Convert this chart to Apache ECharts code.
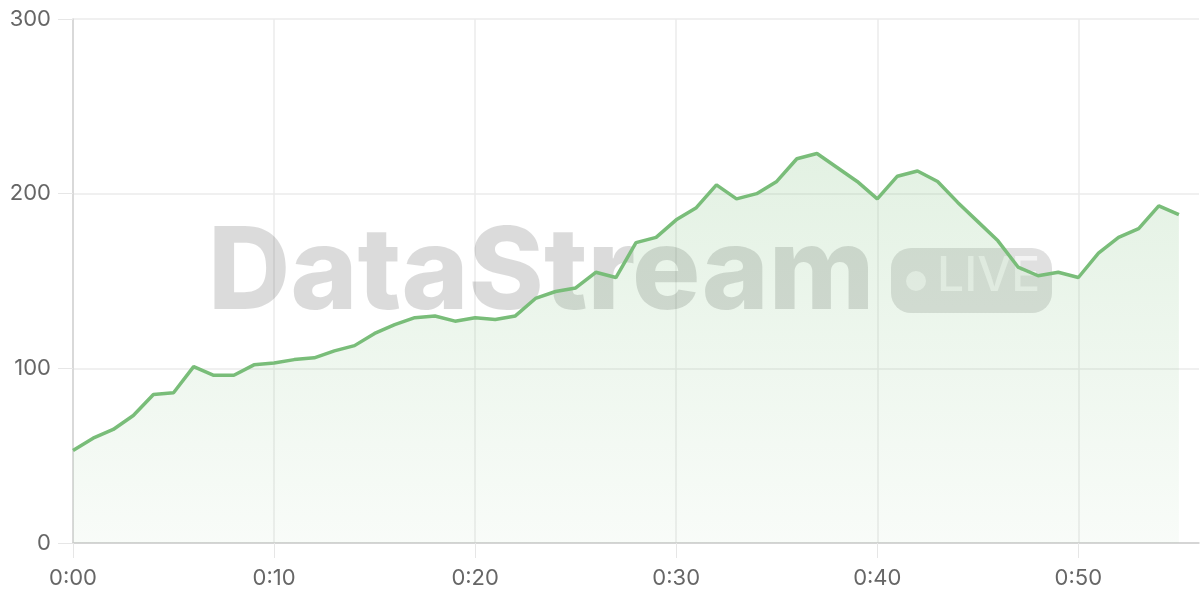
<!DOCTYPE html>
<html>
<head>
<meta charset="utf-8">
<script src="https://cdn.jsdelivr.net/npm/echarts@6/dist/echarts.min.js"></script>
<style>html,body{margin:0;padding:0;background:#fff}#c{width:1200px;height:600px}</style>
</head>
<body>
<div id="c"></div>
<script>
// Minutes since start (0:00 .. 0:55)
const minutes = [0,1,2,3,4,5,6,7,8,9,10,11,12,13,14,15,16,17,18,19,20,21,22,23,24,25,26,27,28,29,30,31,32,33,34,35,36,37,38,39,40,41,42,43,44,45,46,47,48,49,50,51,52,53,54,55];
const values = [53,60,65,73,85,86,101,96,96,102,103,105,106,110,113,120,125,129,130,127,129,128,130,140,144,146,155,152,172,175,185,192,205,197,200,207,220,223,215,207,197,210,213,207,195,184,173,158,153,155,152,166,175,180,193,188];
const yTicks = [0,100,200,300];
const xTickMinutes = [0,10,20,30,40,50];
const watermarkText = 'DataStream';
const badgeText = 'LIVE';

function fmtMin(m){ const h = Math.floor(m/60), mm = m%60; return h + ':' + (mm<10?'0':'') + mm; }

const chart = echarts.init(document.getElementById('c'));
const font = 'Inter, "Noto Sans", sans-serif';
chart.setOption({
  animation: false,
  backgroundColor: '#ffffff',
  grid: { left: 73, right: 1, top: 19, bottom: 57, containLabel: false },
  xAxis: {
    type: 'value', min: 0, max: 56, interval: 10,
    axisLine: { show: true, lineStyle: { color: '#cccccc', width: 1.5 } },
    axisTick: { show: true, length: 15, lineStyle: { color: '#e6e6e6' }, customValues: xTickMinutes },
    axisLabel: { color: '#666', fontSize: 22, fontFamily: font, margin: 24, customValues: xTickMinutes, formatter: v => fmtMin(v), showMaxLabel: true, showMinLabel: true },
    splitLine: { show: true, lineStyle: { color: '#ebebeb', width: 1.5 } }
  },
  yAxis: {
    type: 'value', min: 0, max: 300, interval: 100,
    axisLine: { show: true, lineStyle: { color: '#d2d2d2', width: 1.5 } },
    axisTick: { show: true, length: 15, lineStyle: { color: '#e6e6e6' } },
    axisLabel: { color: '#666', fontSize: 22, fontFamily: font, margin: 22, formatter: v => yTicks.includes(v) ? String(v) : '' },
    splitLine: { show: true, lineStyle: { color: '#ebebeb', width: 1.5 } }
  },
  graphic: [
    { type: 'text', z: 1, left: 208, top: 218, silent: true,
      style: { text: watermarkText, font: '800 114px ' + font, fill: 'rgba(0,0,0,0.14)' } },
    { type: 'rect', z: 1, silent: true, shape: { x: 891, y: 248, width: 161, height: 65, r: 20 },
      style: { fill: 'rgba(0,0,0,0.12)' } },
    { type: 'circle', z: 1, silent: true, shape: { cx: 916, cy: 281, r: 10 },
      style: { fill: 'rgba(255,255,255,0.6)' } },
    { type: 'text', z: 1, silent: true, left: 937, top: 253,
      style: { text: badgeText, font: '500 48px ' + font, fill: 'rgba(255,255,255,0.6)' } }
  ],
  series: [{
    type: 'line', z: 3,
    data: minutes.map((m,i) => [m, values[i]]),
    showSymbol: false, symbol: 'none',
    lineStyle: { color: '#79bd79', width: 3.5 },
    itemStyle: { color: '#79bd79' },
    areaStyle: {
      color: new echarts.graphic.LinearGradient(0,0,0,1,[
        { offset: 0, color: 'rgba(122,190,122,0.30)' },
        { offset: 1, color: 'rgba(122,190,122,0.07)' }
      ])
    }
  }]
});
</script>
</body>
</html>
